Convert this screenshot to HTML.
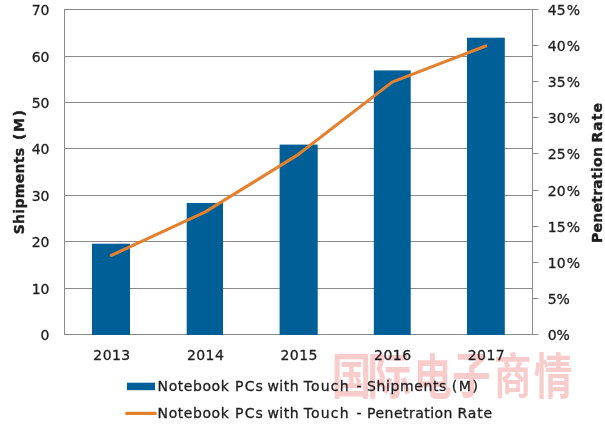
<!DOCTYPE html>
<html><head><meta charset="utf-8"><title>Notebook PCs with Touch</title>
<style>html,body{margin:0;padding:0;background:#fff;overflow:hidden;}svg{display:block;will-change:transform;}text{stroke:#1e1e1e;stroke-width:0.3px;}g.wm text{stroke:none;}text.t{stroke-width:0.4px;}</style></head>
<body>
<svg width="605" height="432" viewBox="0 0 605 432" font-family="'DejaVu Sans', 'Liberation Sans', sans-serif" font-size="14" fill="#1e1e1e">
<rect x="0" y="0" width="605" height="432" fill="#fff"/>
<g class="wm" font-family="'Liberation Sans', 'Noto Sans CJK SC', sans-serif" font-weight="700" font-size="100" fill="#f9cccc"><text transform="matrix(0.3964 0 0 0.4869 331.83 393.64)">国</text><text transform="matrix(0.4386 0 0 0.4911 367.35 393.70)">际</text><text transform="matrix(0.3849 0 0 0.4921 413.57 395.39)">电</text><text transform="matrix(0.3836 0 0 0.4946 452.27 393.37)">子</text><text transform="matrix(0.3742 0 0 0.4732 493.94 393.16)">商</text><text transform="matrix(0.3842 0 0 0.4904 533.93 394.39)">情</text></g>
<line x1="64.5" y1="288.5" x2="532.5" y2="288.5" stroke="#8a8a8a" stroke-width="1"/>
<line x1="64.5" y1="241.5" x2="532.5" y2="241.5" stroke="#8a8a8a" stroke-width="1"/>
<line x1="64.5" y1="195.5" x2="532.5" y2="195.5" stroke="#8a8a8a" stroke-width="1"/>
<line x1="64.5" y1="148.5" x2="532.5" y2="148.5" stroke="#8a8a8a" stroke-width="1"/>
<line x1="64.5" y1="102.5" x2="532.5" y2="102.5" stroke="#8a8a8a" stroke-width="1"/>
<line x1="64.5" y1="56.5" x2="532.5" y2="56.5" stroke="#8a8a8a" stroke-width="1"/>
<line x1="64.5" y1="9.5" x2="532.5" y2="9.5" stroke="#8a8a8a" stroke-width="1"/>
<line x1="64.5" y1="9" x2="64.5" y2="335" stroke="#8a8a8a" stroke-width="1"/>
<line x1="532.5" y1="9" x2="532.5" y2="335" stroke="#8a8a8a" stroke-width="1"/>
<line x1="532.5" y1="334.5" x2="538.5" y2="334.5" stroke="#8a8a8a" stroke-width="1"/>
<line x1="532.5" y1="298.5" x2="538.5" y2="298.5" stroke="#8a8a8a" stroke-width="1"/>
<line x1="532.5" y1="262.5" x2="538.5" y2="262.5" stroke="#8a8a8a" stroke-width="1"/>
<line x1="532.5" y1="226.5" x2="538.5" y2="226.5" stroke="#8a8a8a" stroke-width="1"/>
<line x1="532.5" y1="190.5" x2="538.5" y2="190.5" stroke="#8a8a8a" stroke-width="1"/>
<line x1="532.5" y1="153.5" x2="538.5" y2="153.5" stroke="#8a8a8a" stroke-width="1"/>
<line x1="532.5" y1="117.5" x2="538.5" y2="117.5" stroke="#8a8a8a" stroke-width="1"/>
<line x1="532.5" y1="81.5" x2="538.5" y2="81.5" stroke="#8a8a8a" stroke-width="1"/>
<line x1="532.5" y1="45.5" x2="538.5" y2="45.5" stroke="#8a8a8a" stroke-width="1"/>
<line x1="532.5" y1="9.5" x2="538.5" y2="9.5" stroke="#8a8a8a" stroke-width="1"/>
<line x1="64.0" y1="334.5" x2="532.5" y2="334.5" stroke="#8a8a8a" stroke-width="1"/>
<rect x="92" y="243.7" width="38.0" height="91.3" fill="#005f97"/>
<rect x="186.7" y="203.0" width="36.3" height="132.0" fill="#005f97"/>
<rect x="279.6" y="144.6" width="38.1" height="190.4" fill="#005f97"/>
<rect x="373.8" y="70.4" width="36.9" height="264.6" fill="#005f97"/>
<rect x="467" y="37.7" width="37.8" height="297.3" fill="#005f97"/>
<polyline points="111.30,255.46 204.90,212.13 298.50,154.35 392.10,82.13 485.70,46.02" fill="none" stroke="#e4812f" stroke-width="3.1" stroke-linecap="round" stroke-linejoin="round"/>
<text x="49.5" y="339.80" text-anchor="end">0</text>
<text x="49.5" y="293.80" text-anchor="end">10</text>
<text x="49.5" y="246.80" text-anchor="end">20</text>
<text x="49.5" y="200.80" text-anchor="end">30</text>
<text x="49.5" y="153.80" text-anchor="end">40</text>
<text x="49.5" y="107.80" text-anchor="end">50</text>
<text x="49.5" y="61.80" text-anchor="end">60</text>
<text x="49.5" y="14.80" text-anchor="end">70</text>
<text x="547.8" y="339.50">0<tspan x="556.5">%</tspan></text>
<text x="547.8" y="303.50">5<tspan x="556.5">%</tspan></text>
<text x="547.8" y="267.50">10<tspan x="566.8">%</tspan></text>
<text x="547.8" y="231.50">15<tspan x="566.8">%</tspan></text>
<text x="547.8" y="195.50">20<tspan x="566.8">%</tspan></text>
<text x="547.8" y="158.50">25<tspan x="566.8">%</tspan></text>
<text x="547.8" y="122.50">30<tspan x="566.8">%</tspan></text>
<text x="547.8" y="86.50">35<tspan x="566.8">%</tspan></text>
<text x="547.8" y="50.50">40<tspan x="566.8">%</tspan></text>
<text x="547.8" y="14.50">45<tspan x="566.8">%</tspan></text>
<text x="112.00" y="360" text-anchor="middle" letter-spacing="0.45">2013</text>
<text x="205.60" y="360" text-anchor="middle" letter-spacing="0.45">2014</text>
<text x="299.20" y="360" text-anchor="middle" letter-spacing="0.45">2015</text>
<text x="392.80" y="360" text-anchor="middle" letter-spacing="0.45">2016</text>
<text x="486.40" y="360" text-anchor="middle" letter-spacing="0.45">2017</text>
<text transform="translate(24,0) rotate(-90)" font-weight="bold" class="t"><tspan x="-234.3" letter-spacing="0.31">Shipments</tspan> <tspan x="-140.0" letter-spacing="1.55">(M)</tspan></text>
<text transform="translate(601.8,0) rotate(-90)" font-weight="bold" class="t"><tspan x="-242.9" letter-spacing="0.24">Penetration</tspan> <tspan x="-142.5" letter-spacing="1.0">Rate</tspan></text>
<rect x="127" y="382.7" width="28" height="7.5" fill="#005f97"/>
<line x1="126.6" y1="413.4" x2="155.2" y2="413.4" stroke="#e4812f" stroke-width="3.2" stroke-linecap="round"/>
<text y="391.3"><tspan x="157.6" letter-spacing="0.57">Notebook</tspan> <tspan x="235.0" letter-spacing="1.2">PCs</tspan> <tspan x="267.4" letter-spacing="0.53">with</tspan> <tspan x="303.7" letter-spacing="1.18">Touch</tspan> <tspan x="356.5" letter-spacing="0">-</tspan> <tspan x="367.1" letter-spacing="0.61">Shipments</tspan> <tspan x="451.7" letter-spacing="1.65">(M)</tspan></text>
<text y="418.3"><tspan x="157.6" letter-spacing="0.57">Notebook</tspan> <tspan x="235.0" letter-spacing="1.2">PCs</tspan> <tspan x="267.4" letter-spacing="0.53">with</tspan> <tspan x="303.7" letter-spacing="1.18">Touch</tspan> <tspan x="356.5" letter-spacing="0">-</tspan> <tspan x="367.1" letter-spacing="0.46">Penetration</tspan> <tspan x="457.4" letter-spacing="0.9">Rate</tspan></text>
</svg>
</body></html>
